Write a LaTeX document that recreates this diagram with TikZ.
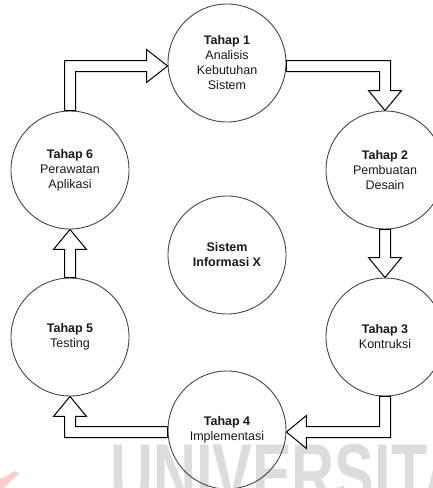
\documentclass[tikz,border=0pt]{standalone}
\usepackage{fontspec}
\setmainfont{Liberation Sans}
\usetikzlibrary{calc}
\definecolor{ring}{RGB}{70,70,70}
\definecolor{wmgray}{RGB}{220,220,220}
\definecolor{logopink}{RGB}{248,205,205}
\tikzset{
  stage/.style={circle, draw=ring, line width=0.9pt, minimum size=118pt,
    inner sep=0pt, align=center, text=black!90,
    font=\fontsize{12.5}{15}\selectfont},
  flex/.style={draw=black, line width=1pt, fill=white, line join=miter},
}
\begin{document}
\begin{tikzpicture}[x=1pt,y=-1pt]
\useasboundingbox (0,0) rectangle (433,488);
\clip (0,0) rectangle (433,488);

% background watermark
\node[anchor=north west, inner sep=0pt, text=wmgray, xscale=0.7,
      font=\fontsize{85}{85}\selectfont\bfseries] (wm) at (110,444) {UNIVERSITA};
\fill[logopink] (0,479) -- (15,471) -- (19,473) -- (4,488) -- (0,488) -- cycle;

% stages of the cycle
\node[stage] (s1) at (227,63)  {\textbf{Tahap 1}\\Analisis\\Kebutuhan\\Sistem};
\node[stage] (s2) at (385,170) {\textbf{Tahap 2}\\Pembuatan\\Desain};
\node[stage] (s3) at (385,337) {\textbf{Tahap 3}\\Kontruksi};
\node[stage] (s4) at (227,430) {\textbf{Tahap 4}\\Implementasi};
\node[stage] (s5) at (70,337)  {\textbf{Tahap 5}\\Testing};
\node[stage] (s6) at (70,170)  {\textbf{Tahap 6}\\Perawatan\\Aplikasi};
\node[stage] (core) at (227,255) {\textbf{Sistem}\\\textbf{Informasi X}};

% Tahap 1 -> Tahap 2
\coordinate (a1) at ($(s1.east)+(0,3)$);
\coordinate (b1) at (s2.north);
\coordinate (k1) at (b1 |- a1);
\draw[flex] ($(a1)+(0,-5.5)$) -- ($(k1)+(5.5,-5.5)$) -- ($(b1)+(5.5,-20)$)
  -- ($(b1)+(16.5,-20)$) -- (b1) -- ($(b1)+(-16.5,-20)$) -- ($(b1)+(-5.5,-20)$)
  -- ($(k1)+(-5.5,5.5)$) -- ($(a1)+(0,5.5)$) -- cycle;

% Tahap 2 -> Tahap 3
\coordinate (a2) at (s2.south);
\coordinate (b2) at (s3.north);
\draw[flex] ($(a2)+(-5.5,0)$) -- ($(b2)+(-5.5,-20)$) -- ($(b2)+(-16.5,-20)$)
  -- (b2) -- ($(b2)+(16.5,-20)$) -- ($(b2)+(5.5,-20)$) -- ($(a2)+(5.5,0)$) -- cycle;

% Tahap 3 -> Tahap 4
\coordinate (a3) at (s3.south);
\coordinate (b3) at ($(s4.east)+(0,2)$);
\coordinate (k3) at (a3 |- b3);
\draw[flex] ($(a3)+(5.5,0)$) -- ($(k3)+(5.5,5.5)$) -- ($(b3)+(20,5.5)$)
  -- ($(b3)+(20,16.5)$) -- (b3) -- ($(b3)+(20,-16.5)$) -- ($(b3)+(20,-5.5)$)
  -- ($(k3)+(-5.5,-5.5)$) -- ($(a3)+(-5.5,0)$) -- cycle;

% Tahap 4 -> Tahap 5
\coordinate (a4) at ($(s4.west)+(0,2)$);
\coordinate (b4) at (s5.south);
\coordinate (k4) at (b4 |- a4);
\draw[flex] ($(a4)+(0,-5.5)$) -- ($(k4)+(5.5,-5.5)$) -- ($(b4)+(5.5,20)$)
  -- ($(b4)+(16.5,20)$) -- (b4) -- ($(b4)+(-16.5,20)$) -- ($(b4)+(-5.5,20)$)
  -- ($(k4)+(-5.5,5.5)$) -- ($(a4)+(0,5.5)$) -- cycle;

% Tahap 5 -> Tahap 6
\coordinate (a5) at (s5.north);
\coordinate (b5) at (s6.south);
\draw[flex] ($(a5)+(-5.5,0)$) -- ($(b5)+(-5.5,20)$) -- ($(b5)+(-16.5,20)$)
  -- (b5) -- ($(b5)+(16.5,20)$) -- ($(b5)+(5.5,20)$) -- ($(a5)+(5.5,0)$) -- cycle;

% Tahap 6 -> Tahap 1
\coordinate (a6) at (s6.north);
\coordinate (b6) at ($(s1.west)+(0,3)$);
\coordinate (k6) at (a6 |- b6);
\draw[flex] ($(a6)+(-5.5,0)$) -- ($(k6)+(-5.5,-5.5)$) -- ($(b6)+(-21,-5.5)$)
  -- ($(b6)+(-21,-16.5)$) -- (b6) -- ($(b6)+(-21,16.5)$) -- ($(b6)+(-21,5.5)$)
  -- ($(k6)+(5.5,5.5)$) -- ($(a6)+(5.5,0)$) -- cycle;
\end{tikzpicture}
\end{document}
